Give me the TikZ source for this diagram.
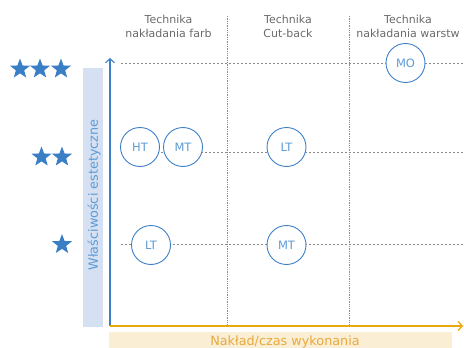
\documentclass[tikz,border=0pt]{standalone}
\usepackage{fontspec}
\setmainfont{DejaVu Sans}
\usetikzlibrary{shapes.geometric,arrows.meta}
\definecolor{axblue}{HTML}{3D80C8}
\definecolor{starblue}{HTML}{3A7EC6}
\definecolor{txtblue}{HTML}{5C9BD6}
\definecolor{bandblue}{HTML}{D6E0F3}
\definecolor{axorange}{HTML}{E9A80C}
\definecolor{bandorange}{HTML}{FAEED4}
\definecolor{txtorange}{HTML}{E8A93C}
\definecolor{hdrgray}{HTML}{6A6A6A}
\definecolor{dotgray}{HTML}{8A8A8A}
\tikzset{
  grade/.style={star, star points=5, star point ratio=2.4, minimum size=21pt, inner sep=0pt, fill=starblue},
  tech/.style={circle, draw=axblue, line width=0.9pt, fill=white, minimum size=39pt, inner sep=0pt, text=txtblue, font=\fontsize{11.5}{12}\selectfont},
  hdr/.style={align=center, text=hdrgray, font=\fontsize{11}{14}\selectfont, inner sep=0pt},
  guide/.style={draw=dotgray, line width=1pt, dash pattern=on 2pt off 2pt},
  vguide/.style={draw=dotgray, line width=1pt, dash pattern=on 1.3pt off 1pt},
}
\begin{document}
\begin{tikzpicture}[x=1pt,y=-1pt]
\useasboundingbox (0,0) rectangle (464,348);
\clip (0,0) rectangle (464,348);
% bands
\fill[bandblue] (83,68) rectangle (103,327);
\fill[bandorange] (109,332) rectangle (452,348);
\node[rotate=90, text=txtblue, font=\fontsize{12.8}{14}\selectfont] (ylab) at (94,195) {Właściwości estetyczne};
\node[text=txtorange, font=\fontsize{12.8}{14}\selectfont, anchor=base] (xlab) at (285,345) {Nakład/czas wykonania};
% headers
\node[hdr] (h1) at (168.5,26) {Technika\\nakładania farb};
\node[hdr] (h2) at (288,26) {Technika\\Cut-back};
\node[hdr] (h3) at (408,26) {Technika\\nakładania warstw};
% coordinates
\coordinate (o) at (110,326);
\coordinate (ytop) at (110,58);
\coordinate (xend) at (463,326);
\coordinate (v1t) at (227,16);
\coordinate (v1b) at (227,326);
\coordinate (v2t) at (349,16);
\coordinate (v2b) at (349,326);
\coordinate (r3s) at (121,63);
\coordinate (r3e) at (464,63);
\coordinate (r2s) at (121,152);
\coordinate (r2e) at (464,152);
\coordinate (r1s) at (121,244);
\coordinate (r1e) at (464,244);
% guides
\path[vguide] (v1t) -- (v1b);
\path[vguide] (v2t) -- (v2b);
\path[guide] (r3s) -- (r3e);
\path[guide] (r2s) -- (r2e);
\path[guide] (r1s) -- (r1e);
% axes
\draw[axblue, line width=1.1pt, -{Straight Barb[length=4pt,width=9pt]}] (o) -- (ytop);
\draw[axorange, line width=1.3pt, -{Straight Barb[length=4pt,width=9pt]}] (o) -- (xend);
% stars
\node[grade] (s31) at (20,69) {};
\node[grade] (s32) at (40,69) {};
\node[grade] (s33) at (61,69) {};
\node[grade] (s21) at (41.5,157) {};
\node[grade] (s22) at (62,157) {};
\node[grade] (s11) at (62,244.5) {};
% circles
\node[tech] (ht2) at (140,147) {HT};
\node[tech] (mt2) at (183,147) {MT};
\node[tech] (lt2) at (286.5,147) {LT};
\node[tech] (lt1) at (151,245) {LT};
\node[tech] (mt1) at (286.5,245) {MT};
\node[tech] (mo3) at (405.5,63) {MO};
\end{tikzpicture}
\end{document}
